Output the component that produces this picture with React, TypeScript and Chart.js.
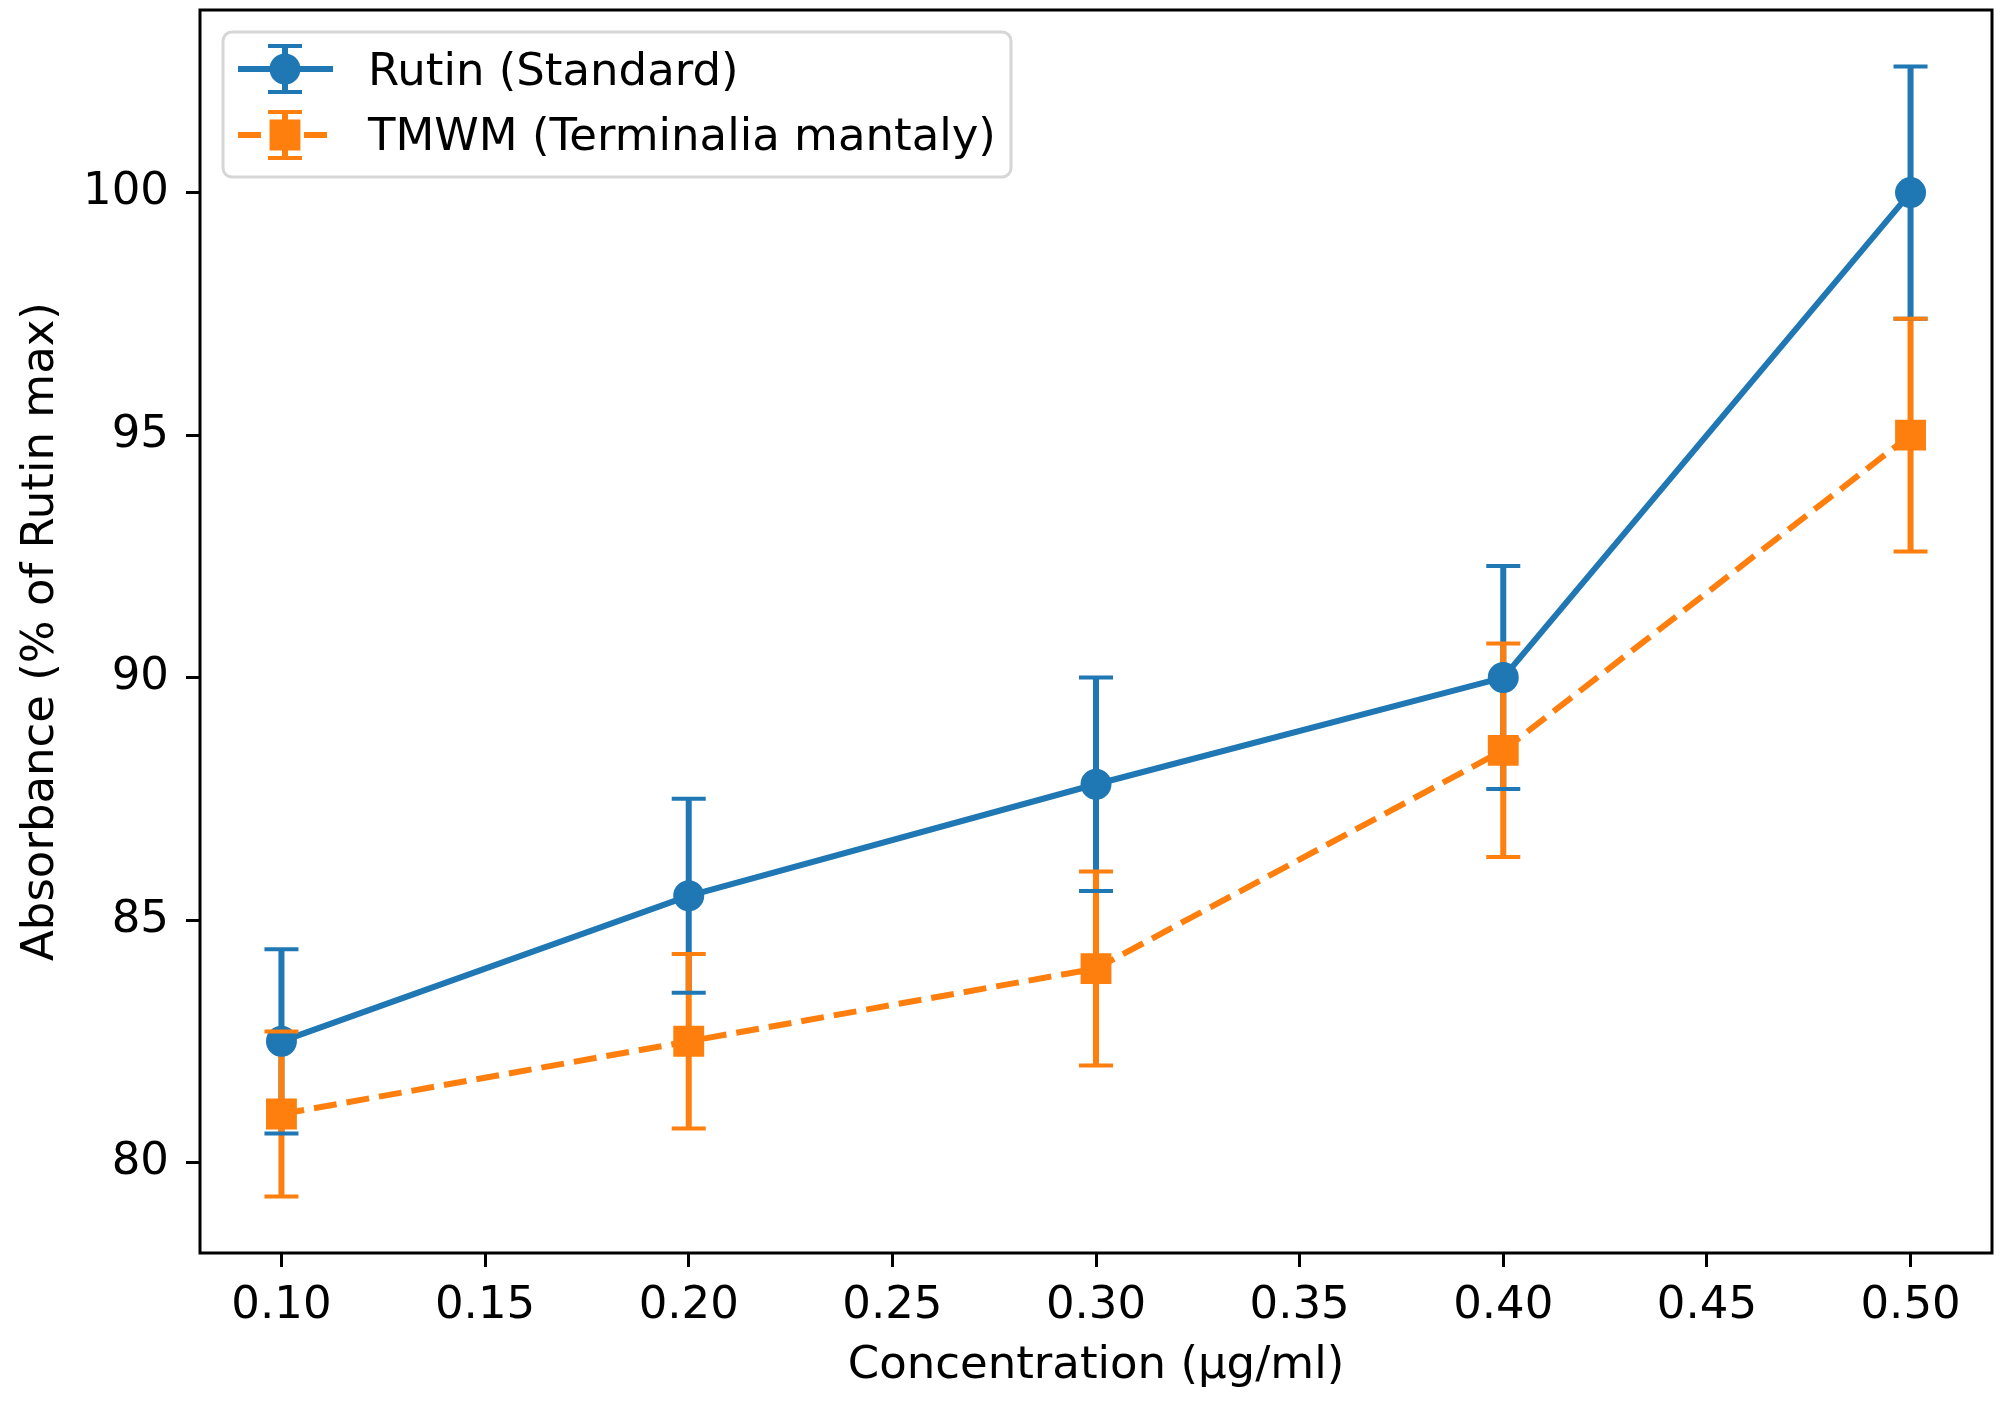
import React, { useEffect, useRef } from "react";
import { Chart, registerables } from "chart.js";

Chart.register(...registerables);

// ---- data ----
const concentrations = [0.1, 0.2, 0.3, 0.4, 0.5];
const rutinValues = [82.5, 85.5, 87.8, 90.0, 100.0];
const rutinErrors = [1.9, 2.0, 2.2, 2.3, 2.6];
const tmwmValues = [81.0, 82.5, 84.0, 88.5, 95.0];
const tmwmErrors = [1.7, 1.8, 2.0, 2.2, 2.4];
const xTicks = [0.1, 0.15, 0.2, 0.25, 0.3, 0.35, 0.4, 0.45, 0.5];
const yTicks = [80, 85, 90, 95, 100];
const seriesLabels = ["Rutin (Standard)", "TMWM (Terminalia mantaly)"];
const xTitle = "Concentration (µg/ml)";
const yTitle = "Absorbance (% of Rutin max)";

const BLUE = "#1f77b4";
const ORANGE = "#ff7f0e";
const FONT = "'DejaVu Sans', 'Liberation Sans', sans-serif";
const FS = 45;

const errorsBySeries = [rutinErrors, tmwmErrors];

// axis limits like matplotlib autoscale (5% margins)
const allLow = [
  ...rutinValues.map((v, i) => v - rutinErrors[i]),
  ...tmwmValues.map((v, i) => v - tmwmErrors[i]),
];
const allHigh = [
  ...rutinValues.map((v, i) => v + rutinErrors[i]),
  ...tmwmValues.map((v, i) => v + tmwmErrors[i]),
];
const yLo = Math.min(...allLow);
const yHi = Math.max(...allHigh);
const yMin = yLo - (yHi - yLo) * 0.05;
const yMax = yHi + (yHi - yLo) * 0.05;
const xLo = Math.min(...concentrations);
const xHi = Math.max(...concentrations);
const xMin = xLo - (xHi - xLo) * 0.05;
const xMax = xHi + (xHi - xLo) * 0.05;

const BAR_W = 6;
const CAP_W = 4;
const CAP_HALF = 17;

function drawMarker(ctx: CanvasRenderingContext2D, style: string, x: number, y: number, color: string) {
  ctx.save();
  ctx.setLineDash([]);
  ctx.fillStyle = color;
  ctx.strokeStyle = color;
  ctx.lineWidth = 4;
  ctx.beginPath();
  if (style === "circle") {
    ctx.arc(x, y, 13.5, 0, Math.PI * 2);
  } else {
    const s = Math.SQRT1_2 * 19;
    ctx.rect(x - s, y - s, 2 * s, 2 * s);
  }
  ctx.fill();
  ctx.stroke();
  ctx.restore();
}

const errorBarPlugin = {
  id: "errorBars",
  beforeDatasetsDraw(chart: any) {
    const ctx = chart.ctx as CanvasRenderingContext2D;
    const xs = chart.scales.x;
    const ys = chart.scales.y;
    ctx.save();
    chart.data.datasets.forEach((ds: any, i: number) => {
      const errs = errorsBySeries[i];
      ctx.strokeStyle = ds.borderColor;
      ctx.lineWidth = BAR_W;
      ctx.lineCap = "butt";
      ctx.setLineDash([]);
      ds.data.forEach((p: any, j: number) => {
        const px = xs.getPixelForValue(p.x);
        ctx.beginPath();
        ctx.moveTo(px, ys.getPixelForValue(p.y - errs[j]));
        ctx.lineTo(px, ys.getPixelForValue(p.y + errs[j]));
        ctx.stroke();
      });
    });
    ctx.restore();
  },
  afterDatasetsDraw(chart: any) {
    const ctx = chart.ctx as CanvasRenderingContext2D;
    const xs = chart.scales.x;
    const ys = chart.scales.y;
    const area = chart.chartArea;
    ctx.save();
    // caps
    chart.data.datasets.forEach((ds: any, i: number) => {
      const errs = errorsBySeries[i];
      ctx.strokeStyle = ds.borderColor;
      ctx.lineWidth = CAP_W;
      ctx.setLineDash([]);
      ds.data.forEach((p: any, j: number) => {
        const px = xs.getPixelForValue(p.x);
        [p.y - errs[j], p.y + errs[j]].forEach((v) => {
          const py = ys.getPixelForValue(v);
          ctx.beginPath();
          ctx.moveTo(px - CAP_HALF, py);
          ctx.lineTo(px + CAP_HALF, py);
          ctx.stroke();
        });
      });
    });
    // spines
    ctx.strokeStyle = "#000";
    ctx.lineWidth = 3;
    ctx.strokeRect(area.left, area.top, area.right - area.left, area.bottom - area.top);

    // legend
    const lx0 = 223, ly0 = 32, lx1 = 1011, ly1 = 177;
    ctx.beginPath();
    (ctx as any).roundRect(lx0, ly0, lx1 - lx0, ly1 - ly0, 9);
    ctx.fillStyle = "rgba(255,255,255,0.8)";
    ctx.fill();
    ctx.lineWidth = 3;
    ctx.strokeStyle = "#d6d6d6";
    ctx.stroke();
    const rows = [
      { cy: 69, base: 85 },
      { cy: 135, base: 150 },
    ];
    chart.data.datasets.forEach((ds: any, i: number) => {
      const { cy, base } = rows[i];
      const cx = 285, hx0 = 238, hx1 = 333;
      const color = ds.borderColor;
      ctx.strokeStyle = color;
      ctx.lineWidth = 6;
      ctx.setLineDash(ds.borderDash || []);
      ctx.beginPath();
      ctx.moveTo(hx0, cy);
      ctx.lineTo(hx1, cy);
      ctx.stroke();
      ctx.setLineDash([]);
      ctx.lineWidth = BAR_W;
      ctx.beginPath();
      ctx.moveTo(cx, cy - 23);
      ctx.lineTo(cx, cy + 23);
      ctx.stroke();
      drawMarker(ctx, ds.pointStyle, cx, cy, color);
      ctx.strokeStyle = color;
      ctx.lineWidth = CAP_W;
      [cy - 23, cy + 23].forEach((yy) => {
        ctx.beginPath();
        ctx.moveTo(cx - CAP_HALF, yy);
        ctx.lineTo(cx + CAP_HALF, yy);
        ctx.stroke();
      });
      ctx.fillStyle = "#000";
      ctx.font = `${FS}px ${FONT}`;
      ctx.textBaseline = "alphabetic";
      ctx.textAlign = "left";
      ctx.fillText(ds.label, 368, base);
    });
    ctx.restore();
  },
};

export default function App() {
  const ref = useRef<HTMLCanvasElement | null>(null);

  useEffect(() => {
    if (!ref.current) return;
    Chart.defaults.font.family = FONT;
    Chart.defaults.color = "#000";
    const chart = new Chart(ref.current, {
      type: "line",
      data: {
        datasets: [
          {
            label: seriesLabels[0],
            data: concentrations.map((x, i) => ({ x, y: rutinValues[i] })),
            borderColor: BLUE,
            backgroundColor: BLUE,
            borderWidth: 6,
            pointStyle: "circle",
            pointRadius: 13.5,
            pointBorderWidth: 4,
            pointBackgroundColor: BLUE,
            pointBorderColor: BLUE,
            tension: 0,
            order: 2,
          },
          {
            label: seriesLabels[1],
            data: concentrations.map((x, i) => ({ x, y: tmwmValues[i] })),
            borderColor: ORANGE,
            backgroundColor: ORANGE,
            borderWidth: 6,
            borderDash: [23, 10],
            pointStyle: "rect",
            pointRadius: 19,
            pointBorderWidth: 4,
            pointBackgroundColor: ORANGE,
            pointBorderColor: ORANGE,
            tension: 0,
            order: 1,
          },
        ],
      } as any,
      options: {
        responsive: false,
        animation: false,
        devicePixelRatio: 1,
        layout: { autoPadding: false, padding: { left: 0, top: 10, right: 14, bottom: 0 } },
        plugins: { legend: { display: false }, tooltip: { enabled: false } },
        scales: {
          x: {
            type: "linear",
            min: xMin,
            max: xMax,
            afterBuildTicks: (s: any) => {
              s.ticks = xTicks.map((v) => ({ value: v }));
            },
            afterFit: (s: any) => {
              s.height = 155;
              s.paddingLeft = 0;
              s.paddingRight = 0;
            },
            ticks: {
              callback: (v: any) => Number(v).toFixed(2),
              color: "#000",
              font: { size: FS, family: FONT },
              padding: 12,
              maxRotation: 0,
              autoSkip: false,
            },
            grid: {
              display: true,
              drawOnChartArea: false,
              drawTicks: true,
              tickLength: 14,
              tickWidth: 3,
              tickColor: "#000",
            },
            border: { display: false },
            title: {
              display: true,
              text: xTitle,
              color: "#000",
              font: { size: FS, family: FONT },
              padding: { top: 0, bottom: 15 },
            },
          },
          y: {
            type: "linear",
            min: yMin,
            max: yMax,
            afterBuildTicks: (s: any) => {
              s.ticks = yTicks.map((v) => ({ value: v }));
            },
            afterFit: (s: any) => {
              s.width = 200;
              s.paddingTop = 0;
              s.paddingBottom = 0;
            },
            ticks: {
              callback: (v: any) => String(v),
              color: "#000",
              font: { size: FS, family: FONT },
              padding: 17,
              autoSkip: false,
            },
            grid: {
              display: true,
              drawOnChartArea: false,
              drawTicks: true,
              tickLength: 14,
              tickWidth: 3,
              tickColor: "#000",
            },
            border: { display: false },
            title: {
              display: true,
              text: yTitle,
              color: "#000",
              font: { size: FS, family: FONT },
              padding: { top: 14, bottom: 0 },
            },
          },
        },
      } as any,
      plugins: [errorBarPlugin as any],
    });
    return () => chart.destroy();
  }, []);

  return (
    <div style={{ position: "absolute", left: 0, top: 0, width: 2006, height: 1408, background: "#fff" }}>
      <canvas ref={ref} width={2006} height={1408} style={{ display: "block", width: 2006, height: 1408 }} />
    </div>
  );
}
